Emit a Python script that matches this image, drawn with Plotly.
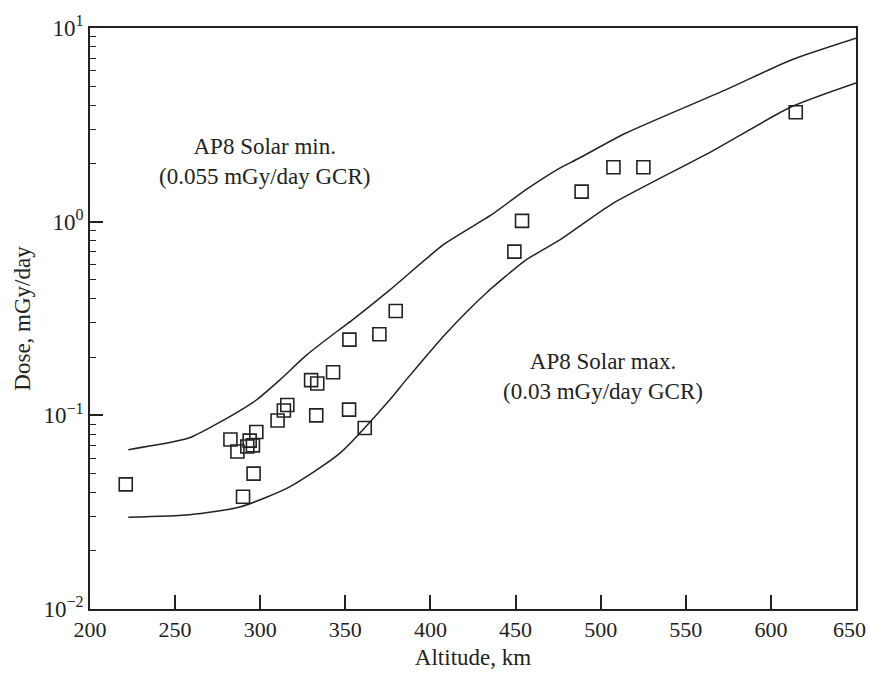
import plotly.graph_objects as go

# Measured data (squares)
obs_alt = [221.0, 282.5, 286.6, 293.8, 292.4, 295.7, 297.7, 296.1, 289.9, 310.2,
           313.9, 315.9, 329.9, 333.5, 332.9, 342.8, 352.4, 352.2, 361.4, 370.0,
           379.6, 449.3, 453.8, 488.8, 507.5, 525.1, 614.6]
obs_dose = [0.044, 0.075, 0.065, 0.074, 0.069, 0.070, 0.082, 0.050, 0.038, 0.094,
            0.106, 0.113, 0.152, 0.146, 0.100, 0.167, 0.246, 0.107, 0.086, 0.262,
            0.346, 0.70, 1.01, 1.43, 1.91, 1.91, 3.67]

# AP8 Solar min curve
min_alt = [222.5, 258.0, 278.0, 297.7, 311.4, 327.0, 346.0, 354.0, 376.0, 408.0,
           435.5, 457.0, 475.5, 487.0, 514.6, 573.0, 612.0, 650.0]
min_dose = [0.0665, 0.0763, 0.094, 0.12, 0.152, 0.204, 0.275, 0.31, 0.443, 0.765,
            1.08, 1.48, 1.88, 2.12, 2.86, 4.78, 6.84, 8.85]

# AP8 Solar max curve
max_alt = [222.5, 258.6, 288.0, 317.0, 346.5, 376.0, 385.6, 409.0, 432.5, 456.0,
           475.5, 487.0, 507.0, 565.0, 612.0, 650.0]
max_dose = [0.0298, 0.0307, 0.0336, 0.0426, 0.0634, 0.12, 0.152, 0.264, 0.426, 0.633,
            0.80, 0.94, 1.24, 2.30, 3.92, 5.21]

x_ticks = [200, 250, 300, 350, 400, 450, 500, 550, 600, 650]
x_tick_text = [str(v) for v in x_ticks]
y_ticks = [0.01, 0.1, 1, 10]
y_tick_text = ["10<sup>−2</sup>", "10<sup>−1</sup>", "10<sup>0</sup>", "10<sup>1</sup>"]
y_minor = [m * d for d in [0.01, 0.1, 1] for m in range(2, 10)]

label_min = "AP8 Solar min.<br>(0.055 mGy/day GCR)"
label_max = "AP8 Solar max.<br>(0.03 mGy/day GCR)"

FONT = "Liberation Serif"
INK = "#222222"
FS = 23
TFS = 22

# last x tick label would be dropped at the figure edge; draw it as an annotation
edge_tick = x_ticks[-1]
axis_tick_text = x_tick_text[:-1] + [""]

fig = go.Figure()
fig.add_trace(go.Scatter(x=min_alt, y=min_dose, mode="lines",
                         line=dict(color=INK, width=1.5, shape="spline", smoothing=0.6),
                         showlegend=False, hoverinfo="skip"))
fig.add_trace(go.Scatter(x=max_alt, y=max_dose, mode="lines",
                         line=dict(color=INK, width=1.5, shape="spline", smoothing=0.6),
                         showlegend=False, hoverinfo="skip"))
fig.add_trace(go.Scatter(x=obs_alt, y=obs_dose, mode="markers",
                         marker=dict(symbol="square-open", size=13, color=INK,
                                     line=dict(width=1.6, color=INK)),
                         showlegend=False))

fig.update_layout(
    width=870, height=679,
    margin=dict(l=90, r=12, t=28, b=70),
    paper_bgcolor="white", plot_bgcolor="white",
    font=dict(family=FONT, size=FS, color=INK),
    annotations=[
        dict(x=302.6, y=0.313, xref="x", yref="y", xanchor="center", yanchor="middle",
             text=label_min, showarrow=False, align="center",
             font=dict(family=FONT, size=FS, color=INK)),
        dict(x=501.3, y=-0.801, xref="x", yref="y", xanchor="center", yanchor="middle",
             text=label_max, showarrow=False, align="center",
             font=dict(family=FONT, size=FS, color=INK)),
        dict(x=edge_tick, y=0, xref="x", yref="paper", xanchor="center", yanchor="top",
             xshift=-7, yshift=-6, text=x_tick_text[-1], showarrow=False,
             font=dict(family=FONT, size=TFS, color=INK)),
    ],
    xaxis=dict(range=[200, 650], tickmode="array", tickvals=x_ticks, ticktext=axis_tick_text,
               ticks="inside", ticklen=14, automargin=False,
               tickwidth=1.5, tickcolor=INK, showline=True, linecolor=INK,
               linewidth=1.5, mirror=True, showgrid=False, zeroline=False,
               tickfont=dict(family=FONT, size=TFS, color=INK),
               title=dict(text="Altitude, km", font=dict(family=FONT, size=FS, color=INK),
                          standoff=8)),
    yaxis=dict(type="log", range=[-2, 1], tickvals=y_ticks, ticktext=y_tick_text,
               ticks="inside", ticklen=13, tickwidth=1.5, tickcolor=INK,
               showline=True, linecolor=INK, linewidth=1.5, mirror=True,
               showgrid=False, zeroline=False,
               tickfont=dict(family=FONT, size=FS, color=INK),
               minor=dict(tickmode="array", tickvals=y_minor, ticks="inside",
                          ticklen=6, tickwidth=1.2, tickcolor=INK, showgrid=False),
               title=dict(text="Dose, mGy/day", font=dict(family=FONT, size=FS, color=INK),
                          standoff=6)),
)
fig.write_html("out.html", config={"displayModeBar": False},
               post_script="document.body.style.margin='0px';document.body.style.overflow='hidden';")
